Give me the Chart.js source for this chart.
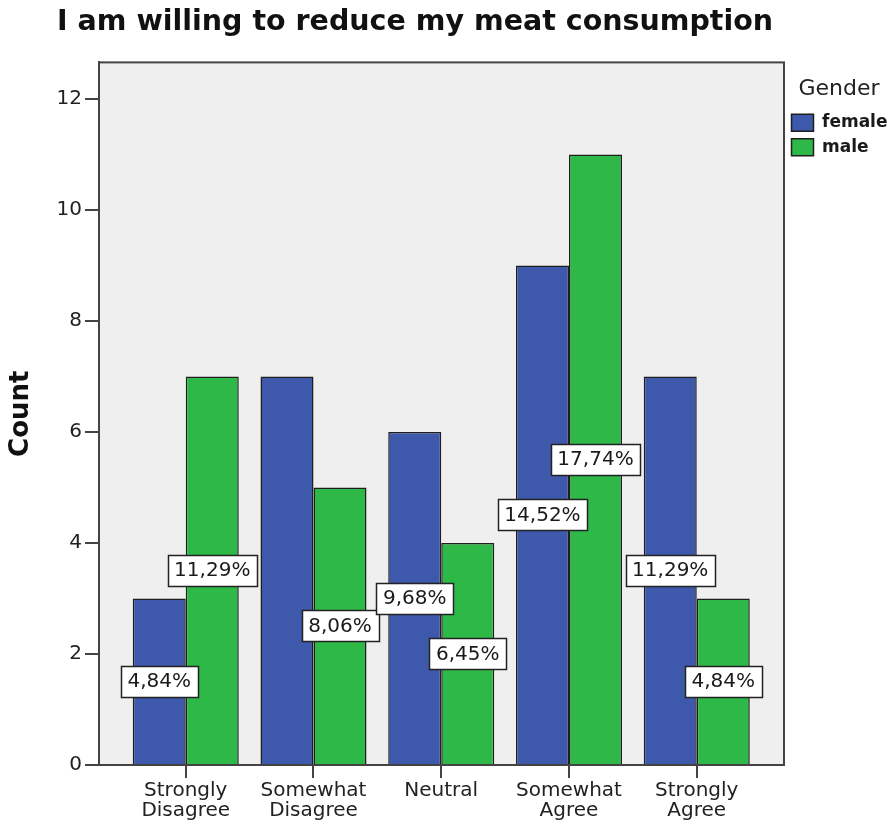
<!DOCTYPE html>
<html>
<head>
<meta charset="utf-8">
<script src="https://cdn.jsdelivr.net/npm/chart.js@4/dist/chart.umd.min.js"></script>
<style>
  html, body { margin: 0; padding: 0; background: #ffffff; }
  #wrap { width: 894px; height: 821px; position: relative; }
</style>
</head>
<body>
<div id="wrap"><canvas id="chart"></canvas></div>
<script>
// Survey answers: "I am willing to reduce my meat consumption", counts by gender
const categories = ['Strongly Disagree', 'Somewhat Disagree', 'Neutral', 'Somewhat Agree', 'Strongly Agree'];
const femaleCounts = [3, 7, 6, 9, 7];
const maleCounts = [7, 5, 4, 11, 3];
const countTicks = [0, 2, 4, 6, 8, 10, 12];

const FONT = '"DejaVu Sans", "Liberation Sans", Arial, sans-serif';
const totalCount = femaleCounts.concat(maleCounts).reduce((a, b) => a + b, 0);

// light grey plot panel with a dark frame around it
const plotFrame = {
  id: 'plotFrame',
  beforeDraw(chart) {
    const { ctx, chartArea: a } = chart;
    ctx.save();
    ctx.fillStyle = '#efefef';
    ctx.fillRect(a.left, a.top, a.right - a.left, a.bottom - a.top);
    ctx.restore();
  },
  afterDatasetsDraw(chart) {
    const { ctx, chartArea: a } = chart;
    ctx.save();
    ctx.strokeStyle = '#444444';
    ctx.lineWidth = 2;
    ctx.strokeRect(a.left, a.top, a.right - a.left, a.bottom - a.top);
    ctx.restore();
  }
};

// boxed percentage of all respondents, centred halfway up each bar;
// a label that would collide with one already placed is left out
const percentLabels = {
  id: 'percentLabels',
  afterDatasetsDraw(chart) {
    const ctx = chart.ctx;
    ctx.save();
    ctx.font = '20px ' + FONT;
    ctx.textAlign = 'center';
    ctx.textBaseline = 'middle';
    const placed = [];
    const n = categories.length;
    for (let i = 0; i < n; i++) {
      chart.data.datasets.forEach((ds, di) => {
        const bar = chart.getDatasetMeta(di).data[i];
        const v = ds.data[i].y;
        const txt = (v / totalCount * 100).toFixed(2).replace('.', ',') + '%';
        const cx = bar.x;
        const cy = (bar.y + bar.base) / 2;
        const w = Math.round(ctx.measureText(txt).width + 13);
        const h = 31;
        const x0 = Math.round(cx - w / 2) + 0.5;
        const y0 = Math.round(cy - h / 2) + 0.5;
        const box = { l: x0, r: x0 + w, t: y0, b: y0 + h };
        const m = 4;
        const hit = placed.some(p => box.l < p.r - m && box.r > p.l + m && box.t < p.b - m && box.b > p.t + m);
        if (hit) return;
        placed.push(box);
        ctx.fillStyle = '#ffffff';
        ctx.fillRect(x0, y0, w, h);
        ctx.lineWidth = 1.5;
        ctx.strokeStyle = '#222222';
        ctx.strokeRect(x0, y0, w, h);
        ctx.fillStyle = '#1a1a1a';
        ctx.fillText(txt, cx, cy + 1);
      });
    }
    ctx.restore();
  }
};

const toPoints = arr => arr.map((v, i) => ({ x: i, y: v }));

new Chart(document.getElementById('chart'), {
  type: 'bar',
  data: {
    datasets: [
      {
        label: 'female',
        data: toPoints(femaleCounts),
        backgroundColor: '#3e58ac',
        borderColor: '#1e1e1e',
        borderWidth: 1.5
      },
      {
        label: 'male',
        data: toPoints(maleCounts),
        backgroundColor: '#2eb848',
        borderColor: '#1e1e1e',
        borderWidth: 1.5
      }
    ]
  },
  options: {
    responsive: true,
    maintainAspectRatio: false,
    animation: false,
    categoryPercentage: 0.83,
    barPercentage: 1.0,
    layout: { padding: { left: 57, right: 0, top: 0, bottom: 0 } },
    scales: {
      x: {
        type: 'linear',
        min: -0.679,
        max: 4.683,
        offset: false,
        afterBuildTicks: s => { s.ticks = categories.map((c, i) => ({ value: i })); },
        afterFit: s => { s.height = 56; },
        grid: { display: true, offset: false, drawOnChartArea: false, drawTicks: true, tickLength: 13, color: '#444444', lineWidth: 2 },
        border: { display: true, color: '#444444', width: 2 },
        ticks: {
          autoSkip: false,
          maxRotation: 0,
          padding: 3,
          color: '#222222',
          font: { family: FONT, size: 20, lineHeight: 1.0 },
          callback: v => {
            const name = categories[v];
            if (name === undefined) return '';
            const parts = name.split(' ');
            return parts.length > 1 ? parts : name;
          }
        }
      },
      y: {
        min: 0,
        max: 12.66,
        afterBuildTicks: s => { s.ticks = countTicks.map(v => ({ value: v })); },
        afterFit: s => { s.width = 42; },
        grid: { display: true, drawOnChartArea: false, drawTicks: true, tickLength: 14, color: '#444444', lineWidth: 2 },
        border: { display: true, color: '#444444', width: 2 },
        ticks: {
          padding: 3,
          color: '#222222',
          font: { family: FONT, size: 20 }
        },
        title: {
          display: true,
          text: 'Count',
          color: '#111111',
          font: { family: FONT, size: 26, weight: 'bold' },
          padding: { top: -51, bottom: 0 }
        }
      }
    },
    plugins: {
      title: {
        display: true,
        text: 'I am willing to reduce my meat consumption',
        align: 'start',
        color: '#111111',
        font: { family: FONT, size: 28.5, weight: 'bold' },
        padding: { top: 5, bottom: 23.2 }
      },
      legend: {
        position: 'right',
        align: 'start',
        fullSize: false,
        maxWidth: 110,
        title: {
          display: true,
          text: 'Gender',
          position: 'center',
          color: '#222222',
          font: { family: FONT, size: 22 },
          padding: { top: 16, bottom: 2 }
        },
        labels: {
          boxWidth: 22,
          boxHeight: 17,
          padding: 7.5,
          color: '#1a1a1a',
          font: { family: FONT, size: 17, weight: 'bold' }
        }
      },
      tooltip: { enabled: false }
    }
  },
  plugins: [plotFrame, percentLabels]
});
</script>
</body>
</html>
